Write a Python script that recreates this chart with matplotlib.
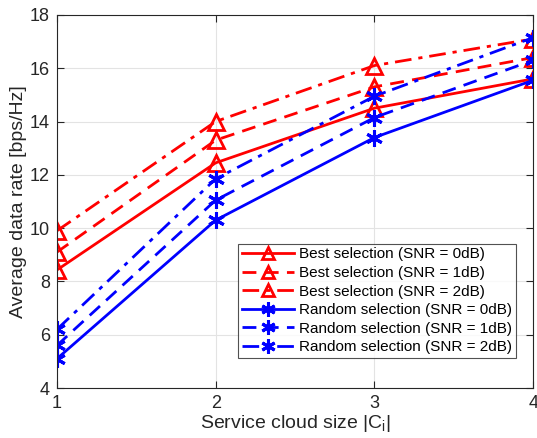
import matplotlib
matplotlib.use("Agg")
import matplotlib.pyplot as plt

plt.rcParams['font.family'] = ['Liberation Sans', 'DejaVu Sans']
plt.rcParams['mathtext.fontset'] = 'custom'
plt.rcParams['mathtext.rm'] = 'Liberation Sans'
plt.rcParams['mathtext.it'] = 'Liberation Sans'

cloud_size = [1, 2, 3, 4]
best_0 = [8.43, 12.45, 14.5, 15.6]
best_1 = [9.1, 13.3, 15.3, 16.4]
best_2 = [9.9, 14.0, 16.1, 17.1]
rand_0 = [5.1, 10.3, 13.4, 15.55]
rand_1 = [5.6, 11.05, 14.15, 16.3]
rand_2 = [6.2, 11.85, 14.95, 17.15]
labels = ['Best selection (SNR = 0dB)', 'Best selection (SNR = 1dB)',
          'Best selection (SNR = 2dB)', 'Random selection (SNR = 0dB)',
          'Random selection (SNR = 1dB)', 'Random selection (SNR = 2dB)']

fig = plt.figure(figsize=(5.37, 4.38), dpi=100)
ax = fig.add_axes([0.106, 0.114, 0.887, 0.852])

styles = ['-', (0, (5, 3)), (0, (6, 2.5, 1.5, 2.5))]
for y, ls, lab in zip([best_0, best_1, best_2], styles, labels[:3]):
    ax.plot(cloud_size, y, color='red', linestyle=ls, linewidth=2,
            marker='^', markersize=11, markerfacecolor='none',
            markeredgewidth=2, label=lab)
for y, ls, lab in zip([rand_0, rand_1, rand_2], styles, labels[3:]):
    ax.plot(cloud_size, y, color='blue', linestyle=ls, linewidth=2,
            marker=(6, 2, 0), markersize=12, markeredgewidth=2.2, label=lab)

ax.set_xlim(1, 4)
ax.set_ylim(4, 18)
ax.set_xticks([1, 2, 3, 4])
ax.set_yticks(range(4, 19, 2))
ax.grid(True, color='#e3e3e3', linewidth=0.8)
ax.set_axisbelow(True)
ax.tick_params(direction='in', labelsize=13, colors='#262626', length=5, top=True, right=True, pad=5)
for s in ax.spines.values():
    s.set_color('#262626')
    s.set_linewidth(0.8)
ax.set_xlabel('Service cloud size |C$_i$|', fontsize=14, color='#262626', labelpad=1)
ax.set_ylabel('Average data rate [bps/Hz]', fontsize=14, color='#262626', labelpad=2)

leg = ax.legend(loc='lower right', bbox_to_anchor=(0.964, 0.08), fontsize=11,
                frameon=True, fancybox=False, edgecolor='#262626',
                borderpad=0.25, labelspacing=0.3, handlelength=3.4,
                handletextpad=0.35, borderaxespad=0, markerscale=0.85)
leg.get_frame().set_linewidth(0.8)

fig.savefig('out.png', dpi=100)
